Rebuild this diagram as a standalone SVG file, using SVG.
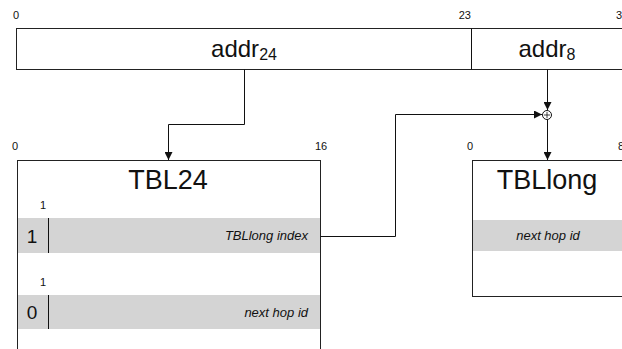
<svg xmlns="http://www.w3.org/2000/svg" width="622" height="349" viewBox="0 0 622 349">
<style>
text{font-family:"Liberation Sans",Arial,sans-serif;fill:#111}
.lbl{font-size:11px}
.box{fill:#fff;stroke:#222;stroke-width:1}
.row{fill:#d4d4d4}
.conn{fill:none;stroke:#111;stroke-width:1}
.big{font-size:24px}
.title{font-size:27px;text-anchor:middle}
.it{font-size:13px;font-style:italic}
.bit{font-size:19px;text-anchor:middle}
</style>
<defs>
<marker id="arr" viewBox="0 0 10 10" refX="10" refY="5" markerWidth="8" markerHeight="8" markerUnits="userSpaceOnUse" orient="auto">
<path d="M0,0 L10,5 L0,10 z" fill="#111"/>
</marker>
</defs>
<g id="address">
<text class="lbl" x="13" y="19">0</text>
<text class="lbl" x="471" y="19" text-anchor="end">23</text>
<text class="lbl" x="616" y="19">31</text>
<rect class="box" x="16.5" y="28.5" width="620" height="41"/>
<line class="conn" x1="471.5" y1="28.5" x2="471.5" y2="69.5"/>
<text class="big" x="244" y="57" text-anchor="middle">addr<tspan font-size="16" dy="3">24</tspan></text>
<text class="big" x="547" y="57" text-anchor="middle">addr<tspan font-size="16" dy="3">8</tspan></text>
</g>
<g id="tbl24">
<text class="lbl" x="12" y="150">0</text>
<text class="lbl" x="321" y="150" text-anchor="middle">16</text>
<rect class="box" x="17.5" y="160.5" width="303" height="200"/>
<text class="title" x="168" y="189">TBL24</text>
<text class="lbl" x="43" y="209" text-anchor="middle">1</text>
<rect class="row" x="18" y="218" width="302" height="35"/>
<line class="conn" x1="48.5" y1="218" x2="48.5" y2="253"/>
<text class="bit" x="32" y="243">1</text>
<text class="it" x="308" y="240" text-anchor="end">TBLlong index</text>
<text class="lbl" x="43" y="286" text-anchor="middle">1</text>
<rect class="row" x="18" y="295" width="302" height="34"/>
<line class="conn" x1="48.5" y1="295" x2="48.5" y2="329"/>
<text class="bit" x="32" y="319">0</text>
<text class="it" x="308" y="317" text-anchor="end">next hop id</text>
</g>
<g id="tbllong">
<text class="lbl" x="467" y="150">0</text>
<text class="lbl" x="618" y="150">8</text>
<rect class="box" x="472.5" y="160.5" width="160" height="136"/>
<text class="title" x="547" y="189">TBLlong</text>
<rect class="row" x="473" y="220" width="160" height="31"/>
<text class="it" x="548" y="240" text-anchor="middle">next hop id</text>
</g>
<g id="adder">
<circle cx="547" cy="115" r="4.5" fill="#fff" stroke="#111" stroke-width="1"/>
<line x1="544" y1="115" x2="550" y2="115" stroke="#111" stroke-width="0.8"/>
<line x1="547" y1="112" x2="547" y2="118" stroke="#111" stroke-width="0.8"/>
</g>
<g id="connectors">
<path class="conn" d="M244.5,69.5 V124.5 H168.5 V160" marker-end="url(#arr)"/>
<path class="conn" d="M320.5,236.5 H395.5 V114.5 H542" marker-end="url(#arr)"/>
<path class="conn" d="M547.5,69.5 V110" marker-end="url(#arr)"/>
<path class="conn" d="M547.5,119.5 V160" marker-end="url(#arr)"/>
</g>
</svg>
